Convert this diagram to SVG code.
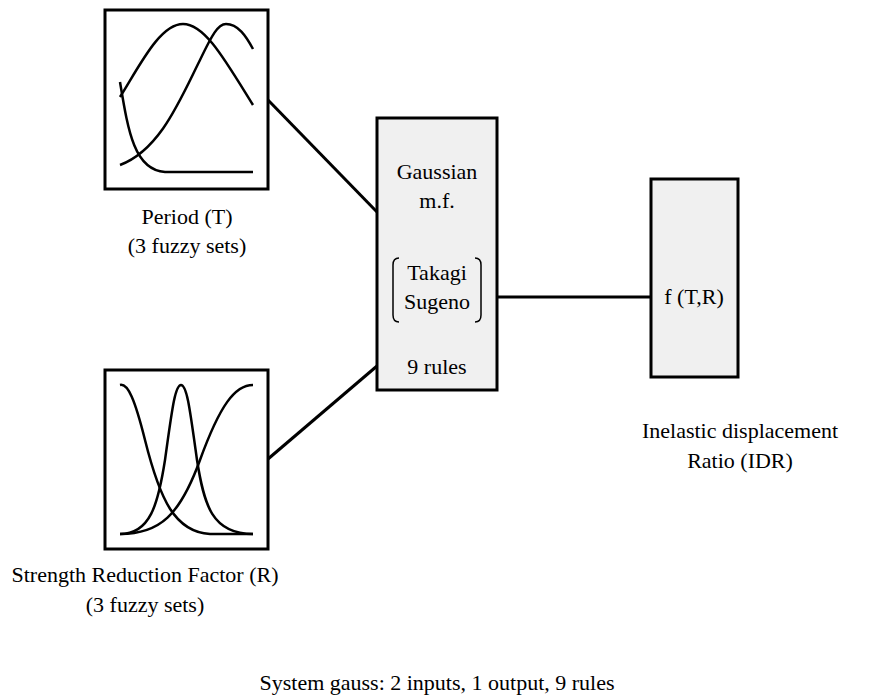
<svg xmlns="http://www.w3.org/2000/svg" width="875" height="700" viewBox="0 0 875 700">
<style>
.box{fill:#ffffff;stroke:#000;stroke-width:3}
.gbox{fill:#f0f0f0;stroke:#000;stroke-width:3}
.mf{fill:none;stroke:#000;stroke-width:2.5}
.conn{stroke:#000;stroke-width:3;fill:none}
text{font-family:"Liberation Serif","Times New Roman",serif;font-size:22px;fill:#000;text-anchor:middle}
</style>
<rect width="875" height="700" fill="#fff"/>
<g id="connectors">
<line class="conn" x1="268" y1="100" x2="377" y2="212"/>
<line class="conn" x1="268" y1="459" x2="377" y2="366"/>
<line class="conn" x1="497" y1="297" x2="651" y2="297"/>
</g>
<g id="period">
<rect class="box" x="105" y="10" width="163" height="179"/>
<path class="mf" d="M120,82 C128,130 134,170 165,172 L253,172"/>
<path class="mf" d="M120,97 C140,65 160,24 183,24 C205,24 225,60 253,105"/>
<path class="mf" d="M120,165 C160,150 180,100 200,60 C212,35 218,24 226,24 C238,24 246,36 253,49"/>
<text x="187" y="224">Period (T)</text>
<text x="187" y="253">(3 fuzzy sets)</text>
</g>
<g id="strength">
<rect class="box" x="105" y="370" width="163" height="179"/>
<path class="mf" d="M120,385 C128,383 135,400 145,440 C160,500 175,532 210,534 L253,534"/>
<path class="mf" d="M120,534 C150,534 158,505 165,460 C172,410 175,385 181,385 C187,385 190,410 197,460 C204,505 212,534 253,534"/>
<path class="mf" d="M120,534 C160,534 180,515 200,460 C220,405 235,385 253,385"/>
<text x="145" y="582">Strength Reduction Factor (R)</text>
<text x="145" y="612">(3 fuzzy sets)</text>
</g>
<g id="fis">
<rect class="gbox" x="377" y="118" width="120" height="272"/>
<text x="437" y="179">Gaussian</text>
<text x="437" y="208">m.f.</text>
<path class="mf" stroke-width="1.5" d="M399,258 Q393,258 393,265 L393,315 Q393,322 399,322" style="stroke-width:1.5"/>
<path class="mf" d="M475,258 Q481,258 481,265 L481,315 Q481,322 475,322" style="stroke-width:1.5"/>
<text x="437" y="280">Takagi</text>
<text x="437" y="309">Sugeno</text>
<text x="437" y="374">9 rules</text>
</g>
<g id="output">
<rect class="gbox" x="651" y="179" width="87" height="198"/>
<text x="694" y="304">f (T,R)</text>
<text x="740" y="438">Inelastic displacement</text>
<text x="740" y="468">Ratio (IDR)</text>
</g>
<text x="437" y="690">System gauss: 2 inputs, 1 output, 9 rules</text>
</svg>
